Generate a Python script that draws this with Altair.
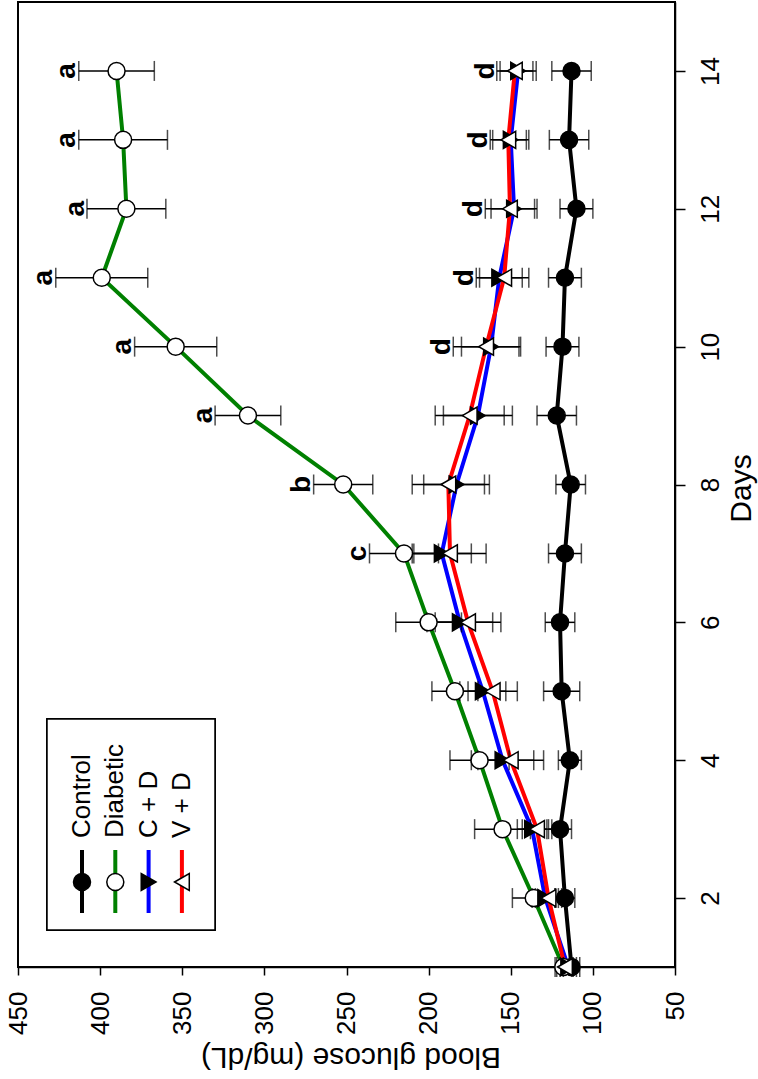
import altair as alt
import pandas as pd

# ---- data ----
days = list(range(1, 15))
series_names = ["Control", "Diabetic", "C + D", "V + D"]

control = [113, 117, 120, 114, 119, 120, 117, 113.5, 122, 118.5, 117, 110, 114.5, 113]
control_se = [5, 6, 7, 7, 11, 9, 10, 9, 12, 10, 10, 10, 12, 12]
diabetic = [118, 136, 155, 169, 184, 200, 215, 252, 310, 354, 399, 384, 386, 390]
diabetic_se = [5, 13, 17, 18, 14, 20, 21, 18, 20, 25, 28, 24, 27, 23]
cd = [115, 129, 137, 155, 167, 181, 192, 183, 170, 162, 157, 148, 150, 145.5]
cd_se = [5, 8, 9, 19, 14, 20, 18, 20, 21, 18, 14, 14, 11, 11]
vd = [117, 127, 134, 150, 161, 176, 187, 188, 175, 165, 154, 150.5, 151.5, 147.5]
vd_se = [5, 8, 9, 20, 15, 20, 22, 22, 21, 20, 15, 15, 11, 11]

diabetic_letters = ["", "", "", "", "", "", "c", "b", "a", "a", "a", "a", "a", "a"]
treated_letters = ["", "", "", "", "", "", "", "", "", "d", "d", "d", "d", "d"]

x_ticks = [50, 100, 150, 200, 250, 300, 350, 400, 450]
day_ticks = [2, 4, 6, 8, 10, 12, 14]

# ---- tables ----
rows = []
for name, vals, ses in [("Control", control, control_se), ("Diabetic", diabetic, diabetic_se),
                        ("C + D", cd, cd_se), ("V + D", vd, vd_se)]:
    for d, v, s in zip(days, vals, ses):
        rows.append({"series": name, "day": d, "value": v, "lo": v - s, "hi": v + s})
df = pd.DataFrame(rows)

lab_rows = []
for i, d in enumerate(days):
    if diabetic_letters[i]:
        lab_rows.append({"day": d, "label": diabetic_letters[i], "top": diabetic[i] + diabetic_se[i]})
    if treated_letters[i]:
        lab_rows.append({"day": d, "label": treated_letters[i],
                         "top": max(cd[i] + cd_se[i], vd[i] + vd_se[i])})
labels_df = pd.DataFrame(lab_rows)
legend_df = pd.DataFrame({"series": series_names, "idx": list(range(len(series_names)))})

color_scale = alt.Scale(domain=series_names, range=["black", "#008000", "#0000FF", "#FF0000"])
shape_scale = alt.Scale(domain=series_names, range=["circle", "circle", "triangle-right", "triangle-left"])
fill_scale = alt.Scale(domain=series_names, range=["black", "white", "black", "white"])

W, H = 657, 965
FONT = "Liberation Sans, Arial, Helvetica, sans-serif"

xs = alt.Scale(domain=[50, 450], reverse=True, nice=False, zero=False)
ys = alt.Scale(domain=[1, 15], nice=False, zero=False)

x_enc = alt.X("value:Q", scale=xs, axis=alt.Axis(
    values=x_ticks, format="d", title="Blood glucose (mg/dL)", orient="bottom",
    labelAngle=270, labelAlign="right", labelBaseline="middle", labelPadding=16,
    labelFontSize=26, titleFontSize=30, titleFontWeight="normal",
    titleAngle=180, titleX=W / 2 + 4, titleY=89, titleAlign="center", titleBaseline="middle",
    tickSize=8, grid=False))
y_enc = alt.Y("day:Q", scale=ys, axis=alt.Axis(
    values=day_ticks, format="d", title="Days", orient="right",
    labelAngle=270, labelAlign="center", labelBaseline="top", labelPadding=12,
    labelFontSize=26, titleFontSize=30, titleFontWeight="normal",
    titleAngle=270, titleX=66, titleY=486, titleAlign="center", titleBaseline="middle",
    tickSize=10, grid=False))

base = alt.Chart(df)

lines = base.mark_line(strokeWidth=4).encode(
    x=x_enc, y=y_enc,
    color=alt.Color("series:N", scale=color_scale, legend=None),
    detail="series:N", order="day:Q")

bars = base.mark_rule(color="black", strokeWidth=1.5).encode(
    x=alt.X("lo:Q", scale=xs), x2="hi:Q", y=alt.Y("day:Q", scale=ys))
cap_lo = base.mark_tick(orient="vertical", size=20, thickness=1.5, color="black").encode(
    x=alt.X("lo:Q", scale=xs), y=alt.Y("day:Q", scale=ys))
cap_hi = base.mark_tick(orient="vertical", size=20, thickness=1.5, color="black").encode(
    x=alt.X("hi:Q", scale=xs), y=alt.Y("day:Q", scale=ys))

points = base.mark_point(size=290, stroke="black", strokeWidth=1.5, opacity=1, fillOpacity=1).encode(
    x=alt.X("value:Q", scale=xs), y=alt.Y("day:Q", scale=ys),
    shape=alt.Shape("series:N", scale=shape_scale, legend=None),
    fill=alt.Fill("series:N", scale=fill_scale, legend=None))

letters = alt.Chart(labels_df).transform_calculate(
    pos="datum.top + 2"
).mark_text(angle=270, align="center", baseline="alphabetic", fontSize=28,
            fontWeight="bold", font=FONT, color="black").encode(
    x=alt.X("pos:Q", scale=xs), y=alt.Y("day:Q", scale=ys), text="label:N")

# ---- legend (rotated like the figure) ----
leg = alt.Chart(legend_df).transform_calculate(lx="64 + 33.3 * datum.idx")
leg_box = alt.Chart(legend_df).mark_rect(fill="white", stroke="black", strokeWidth=1.5).encode(
    x=alt.value(29), x2=alt.value(197), y=alt.value(717), y2=alt.value(928))
leg_lines = leg.mark_rule(strokeWidth=4).encode(
    x=alt.X("lx:Q", scale=None), y=alt.value(848), y2=alt.value(911),
    color=alt.Color("series:N", scale=color_scale, legend=None))
leg_pts = leg.mark_point(size=290, stroke="black", strokeWidth=1.5, opacity=1, fillOpacity=1).encode(
    x=alt.X("lx:Q", scale=None), y=alt.value(880),
    shape=alt.Shape("series:N", scale=shape_scale, legend=None),
    fill=alt.Fill("series:N", scale=fill_scale, legend=None))
leg_text = leg.mark_text(angle=270, align="left", baseline="middle", fontSize=26,
                         font=FONT, color="black").encode(
    x=alt.X("lx:Q", scale=None), y=alt.value(836), text="series:N")

chart = alt.layer(
    lines, bars, cap_lo, cap_hi, points, letters,
    leg_box, leg_lines, leg_pts, leg_text
).properties(
    width=W, height=H,
    autosize=alt.AutoSizeParams(type="none"),
    padding={"left": 18, "top": 2, "right": 83, "bottom": 112},
    background="white"
).configure_view(
    stroke="black", strokeWidth=2
).configure_axis(
    domainColor="black", domainWidth=1.5, tickColor="black", tickWidth=1.5,
    labelColor="black", titleColor="black", labelFont=FONT, titleFont=FONT
)

chart.save("out.html", embed_options={"renderer": "svg", "actions": False})
